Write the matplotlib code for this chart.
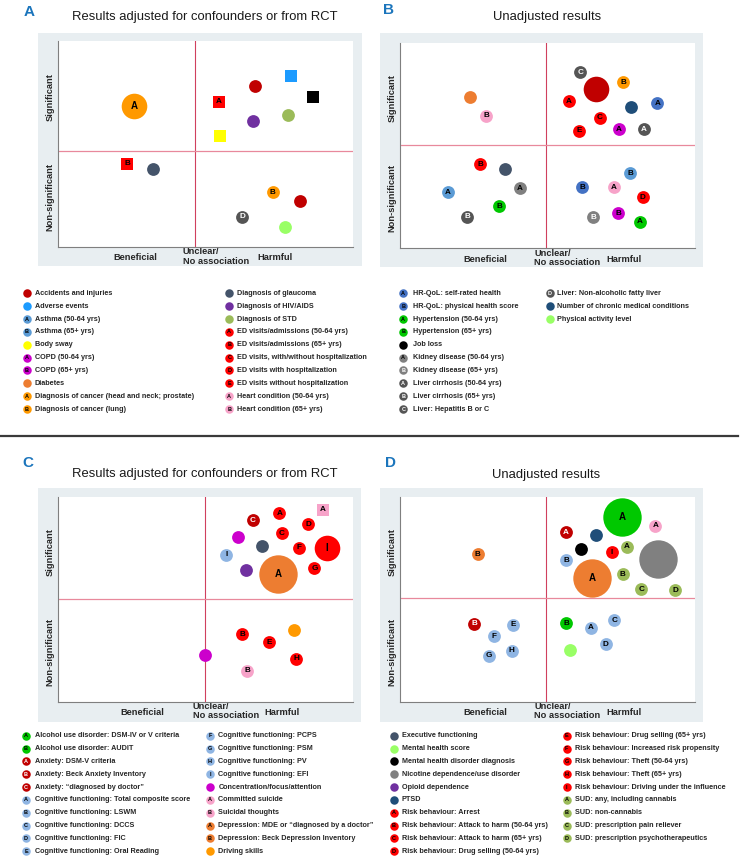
import matplotlib
matplotlib.use("Agg")
import matplotlib.pyplot as plt
from matplotlib.patches import Rectangle

plt.rcParams['font.family'] = ['Liberation Sans', 'DejaVu Sans']

# ---- legend categories (codes, text, letter inside the dot) ----
legA_codes = ["acc", "adv", "asthA", "asthB", "sway", "copdA", "copdB", "diab", "cancA", "cancB",
              "glau", "hiv", "std", "edA", "edB", "edC", "edD", "edE", "heartA", "heartB"]
legA_labels = ["Accidents and injuries", "Adverse events", "Asthma (50-64 yrs)", "Asthma (65+ yrs)",
               "Body sway", "COPD (50-64 yrs)", "COPD (65+ yrs)", "Diabetes",
               "Diagnosis of cancer (head and neck; prostate)", "Diagnosis of cancer (lung)",
               "Diagnosis of glaucoma", "Diagnosis of HIV/AIDS", "Diagnosis of STD",
               "ED visits/admissions (50-64 yrs)", "ED visits/admissions (65+ yrs)",
               "ED visits, with/without hospitalization", "ED visits with hospitalization",
               "ED visits without hospitalization", "Heart condition (50-64 yrs)", "Heart condition (65+ yrs)"]
legA_letters = ["", "", "A", "B", "", "A", "B", "", "A", "B",
                "", "", "", "A", "B", "C", "D", "E", "A", "B"]

legB_codes = ["hrqA", "hrqB", "hypA", "hypB", "job", "kidA", "kidB", "livA", "livB", "livC",
              "livD", "chron", "phys"]
legB_labels = ["HR-QoL: self-rated health", "HR-QoL: physical health score", "Hypertension (50-64 yrs)",
               "Hypertension (65+ yrs)", "Job loss", "Kidney disease (50-64 yrs)", "Kidney disease (65+ yrs)",
               "Liver cirrhosis (50-64 yrs)", "Liver cirrhosis (65+ yrs)", "Liver: Hepatitis B or C",
               "Liver: Non-alcoholic fatty liver", "Number of chronic medical conditions",
               "Physical activity level"]
legB_letters = ["A", "B", "A", "B", "", "A", "B", "A", "B", "C", "D", "", ""]

legC_codes = ["alcA", "alcB", "anxA", "anxB", "anxC", "cogA", "cogB", "cogC", "cogD", "cogE",
              "cogF", "cogG", "cogH", "cogI", "conc", "suiA", "suiB", "depA", "depB", "drive"]
legC_labels = ["Alcohol use disorder: DSM-IV or V criteria", "Alcohol use disorder: AUDIT",
               "Anxiety: DSM-V criteria", "Anxiety: Beck Anxiety Inventory",
               "Anxiety: \u201cdiagnosed by doctor\u201d", "Cognitive functioning: Total composite score",
               "Cognitive functioning: LSWM", "Cognitive functioning: DCCS", "Cognitive functioning: FIC",
               "Cognitive functioning: Oral Reading", "Cognitive functioning: PCPS",
               "Cognitive functioning: PSM", "Cognitive functioning: PV", "Cognitive functioning: EFI",
               "Concentration/focus/attention", "Committed suicide", "Suicidal thoughts",
               "Depression: MDE or \u201cdiagnosed by a doctor\u201d", "Depression: Beck Depression Inventory",
               "Driving skills"]
legC_letters = ["A", "B", "A", "B", "C", "A", "B", "C", "D", "E",
                "F", "G", "H", "I", "", "A", "B", "A", "B", ""]

legD_codes = ["exe", "mhs", "mhd", "nic", "opi", "ptsd", "rA", "rB", "rC", "rD",
              "rE", "rF", "rG", "rH", "rI", "sudA", "sudB", "sudC", "sudD"]
legD_labels = ["Executive functioning", "Mental health score", "Mental health disorder diagnosis",
               "Nicotine dependence/use disorder", "Opioid dependence", "PTSD",
               "Risk behaviour: Arrest", "Risk behaviour: Attack to harm (50-64 yrs)",
               "Risk behaviour: Attack to harm (65+ yrs)", "Risk behaviour: Drug selling (50-64 yrs)",
               "Risk behaviour: Drug selling (65+ yrs)", "Risk behaviour: Increased risk propensity",
               "Risk behaviour: Theft (50-64 yrs)", "Risk behaviour: Theft (65+ yrs)",
               "Risk behaviour: Driving under the influence", "SUD: any, including cannabis",
               "SUD: non-cannabis", "SUD: prescription pain reliever", "SUD: prescription psychotherapeutics"]
legD_letters = ["", "", "", "", "", "", "A", "B", "C", "D", "E", "F", "G", "H", "I", "A", "B", "C", "D"]

# ---- points: x = beneficial(0) .. harmful(100), y = non-significant(0) .. significant(100)
# size = relative bubble radius, rct = drawn as square
A_code = ["cancA", "edA", "acc", "adv", "job", "hiv", "std", "sway", "edB", "glau", "cancB", "acc", "livD", "phys"]
A_x = [25.7, 54.5, 66.8, 79.0, 86.4, 66.1, 78.1, 55.0, 23.5, 32.1, 72.8, 82.0, 62.5, 77.1]
A_y = [68.4, 70.4, 78.0, 82.9, 73.0, 61.0, 63.9, 53.9, 40.3, 37.7, 26.5, 22.5, 14.7, 9.6]
A_size = [2, 1, 1, 1, 1, 1, 1, 1, 1, 1, 1, 1, 1, 1]
A_rct = [0, 1, 0, 1, 1, 0, 0, 1, 1, 0, 0, 0, 0, 0]

B_code = ["livC", "acc", "cancB", "edA", "chron", "hrqA", "edC", "edE", "copdA", "livA", "diab", "heartB",
          "edB", "glau", "kidA", "asthA", "hypB", "livB",
          "asthB", "hrqB", "heartA", "edD", "copdB", "kidB", "hypA"]
B_x = [61.1, 66.4, 75.6, 57.3, 78.2, 87.2, 67.7, 60.6, 74.2, 82.6, 23.7, 29.3,
       27.2, 35.6, 40.7, 16.3, 33.7, 22.7,
       78.1, 61.7, 72.4, 82.3, 74.0, 65.5, 81.3]
B_y = [85.7, 77.3, 80.7, 71.6, 68.7, 70.5, 63.5, 57.1, 58.0, 57.9, 73.6, 64.5,
       41.0, 38.4, 29.3, 27.2, 20.4, 15.4,
       36.6, 29.7, 29.8, 24.8, 17.0, 15.1, 12.9]
B_size = [1, 2] + [1] * 23
B_rct = [0] * 25

C_code = ["suiA", "rA", "anxC", "rD", "rC", "conc", "exe", "rF", "rI", "cogI", "opi", "depA", "rG",
          "drive", "rB", "rE", "conc", "rH", "suiB"]
C_x = [89.8, 75.1, 66.2, 85.0, 76.0, 61.0, 69.3, 81.9, 91.3, 57.1, 63.9, 74.7, 87.0,
       80.2, 62.6, 71.7, 49.8, 80.8, 64.2]
C_y = [93.9, 92.2, 88.7, 86.8, 82.5, 80.6, 76.0, 75.2, 75.0, 71.8, 64.3, 62.5, 65.4,
       35.1, 33.1, 29.1, 22.7, 21.0, 15.2]
C_size = [1, 1, 1, 1, 1, 1, 1, 1, 2, 1, 1, 3, 1, 1, 1, 1, 1, 1, 1]
C_rct = [1] + [0] * 18

D_code = ["alcA", "suiA", "anxA", "ptsd", "mhd", "rI", "sudA", "nic", "cogB", "depA", "sudB", "sudC", "sudD",
          "depB", "anxB", "cogE", "cogF", "cogG", "cogH",
          "alcB", "cogA", "cogC", "cogD", "mhs"]
D_x = [75.4, 86.6, 56.3, 66.3, 61.2, 71.9, 76.9, 87.6, 56.3, 65.1, 75.5, 81.8, 93.2,
       26.3, 25.1, 38.3, 31.9, 30.1, 37.9,
       56.3, 64.6, 72.6, 69.7, 57.6]
D_y = [90.2, 86.0, 83.0, 81.4, 74.5, 73.2, 75.7, 69.8, 69.3, 60.7, 62.3, 55.0, 54.6,
       72.1, 38.2, 37.7, 32.1, 22.4, 25.0,
       38.4, 36.1, 39.8, 28.1, 25.3]
D_size = [3, 1, 1, 1, 1, 1, 1, 3, 1, 3, 1, 1, 1, 1, 1, 1, 1, 1, 1, 1, 1, 1, 1, 1]
D_rct = [0] * 24

# ---- colours ----
RED, DKRED, PINK, LBLUE, OLIVE, GREEN = '#ff0000', '#c00000', '#f7a3c9', '#8fb5e3', '#9bbb59', '#00c800'
colours = {
    "acc": DKRED, "adv": '#1c9bff', "asthA": '#5b9bd5', "asthB": '#5b9bd5', "sway": '#ffff00',
    "copdA": '#cc00cc', "copdB": '#cc00cc', "diab": '#ed7d31', "cancA": '#ff9900', "cancB": '#ff9900',
    "glau": '#44546a', "hiv": '#7030a0', "std": OLIVE, "heartA": PINK, "heartB": PINK,
    "hrqA": '#4472c4', "hrqB": '#4472c4', "hypA": GREEN, "hypB": GREEN, "job": '#000000',
    "kidA": '#808080', "kidB": '#808080', "livA": '#555555', "livB": '#555555', "livC": '#555555',
    "livD": '#555555', "chron": '#1f4e79', "phys": '#99ff66',
    "alcA": GREEN, "alcB": GREEN, "anxA": DKRED, "anxB": DKRED, "anxC": DKRED,
    "conc": '#cc00cc', "suiA": PINK, "suiB": PINK, "depA": '#ed7d31', "depB": '#ed7d31', "drive": '#ff9900',
    "exe": '#44546a', "mhs": '#99ff66', "mhd": '#000000', "nic": '#808080', "opi": '#7030a0',
    "ptsd": '#1f4e79',
}
for c in ["edA", "edB", "edC", "edD", "edE", "rA", "rB", "rC", "rD", "rE", "rF", "rG", "rH", "rI"]:
    colours[c] = RED
for c in ["cogA", "cogB", "cogC", "cogD", "cogE", "cogF", "cogG", "cogH", "cogI"]:
    colours[c] = LBLUE
for c in ["sudA", "sudB", "sudC", "sudD"]:
    colours[c] = OLIVE
white_letter = {"anxA", "anxB", "anxC", "livA", "livB", "livC", "livD", "kidB"}

letters = {}
for codes, lets in [(legA_codes, legA_letters), (legB_codes, legB_letters),
                    (legC_codes, legC_letters), (legD_codes, legD_letters)]:
    letters.update(dict(zip(codes, lets)))

W, H = 740, 858
fig = plt.figure(figsize=(W / 100, H / 100), dpi=100)
bg = fig.add_axes([0, 0, 1, 1], zorder=0)
bg.set_xlim(0, W)
bg.set_ylim(H, 0)
bg.axis('off')

PX = 0.72  # points per pixel at dpi 100


def panel(tag, title, box, plot, vline, hline, tag_xy, title_xy, ben, harm,
          codes, xs, ys, sizes, rct):
    bx0, by0, bx1, by1 = box
    bg.add_patch(Rectangle((bx0, by0), bx1 - bx0, by1 - by0, color='#e8eef1', lw=0))
    bg.text(*tag_xy, tag, fontsize=11, weight='bold', color='#1b75bc', ha='center', va='center')
    bg.text(*title_xy, title, fontsize=9.4, color='#1a1a1a', ha='center', va='center')
    x0, y0, x1, y1 = plot
    w, h = x1 - x0, y1 - y0
    ax = fig.add_axes([x0 / W, 1 - y1 / H, w / W, h / H], zorder=1)
    ax.set_xlim(0, 100)
    ax.set_ylim(0, 100)
    ax.set_xticks([])
    ax.set_yticks([])
    for s in ['top', 'right']:
        ax.spines[s].set_visible(False)
    for s in ['left', 'bottom']:
        ax.spines[s].set_color('#7f7f7f')
        ax.spines[s].set_linewidth(0.8)
    ax.axvline(vline, color='#d0405e', lw=0.8, zorder=1)
    ax.axhline(hline, color='#e8899c', lw=0.9, zorder=1)
    for c, x, y, sz, sq in zip(codes, xs, ys, sizes, rct):
        d = 12.8 * sz * PX
        ax.scatter([x], [y], s=d * d, color=colours[c], marker='s' if sq else 'o',
                   linewidths=0, zorder=3, clip_on=False)
        if letters[c]:
            ax.text(x, y, letters[c], ha='center', va='center', fontsize=5.9 if sz == 1 else 7,
                    weight='bold', color='white' if c in white_letter else 'black', zorder=4)
    lab = dict(fontsize=6.7, weight='bold', color='#262626')
    bg.text(x0 - 8, y0 + 0.27 * h, "Significant", rotation=90, ha='center', va='center', **lab)
    bg.text(x0 - 8, y0 + 0.755 * h, "Non-significant", rotation=90, ha='center', va='center', **lab)
    bg.text(x0 + ben * w, y1 + 11, "Beneficial", ha='center', va='center', **lab)
    bg.text(x0 + harm * w, y1 + 11, "Harmful", ha='center', va='center', **lab)
    bg.text(x0 + vline / 100 * w - 12, y1 + 9.5, "Unclear/\nNo association", ha='left', va='center',
            linespacing=1.05, **lab)


def legend(codes, labels, rows_y, icon_x, text_x, step=12.86):
    for i, (c, t) in enumerate(zip(codes, labels)):
        col, row = divmod(i, 10)
        y = rows_y + row * step
        bg.scatter([icon_x[col]], [y], s=(8.5 * PX) ** 2, color=colours[c], linewidths=0, zorder=3)
        if letters[c]:
            bg.text(icon_x[col], y, letters[c], fontsize=4, weight='bold', ha='center', va='center',
                    color='white' if c in white_letter else 'black', zorder=4)
        bg.text(text_x[col], y, t, fontsize=5.2, weight='bold', color='#262626', ha='left', va='center')


panel("A", "Results adjusted for confounders or from RCT", (38, 33, 362, 266), (58, 41, 353, 247),
      46.4, 46.6, (29, 12), (205, 17), 0.261, 0.737, A_code, A_x, A_y, A_size, A_rct)
panel("B", "Unadjusted results", (380, 33, 703, 267), (400, 42.7, 695, 248.3),
      49.5, 50.1, (388, 10), (547, 17), 0.288, 0.759, B_code, B_x, B_y, B_size, B_rct)
panel("C", "Results adjusted for confounders or from RCT", (38, 488, 361, 722), (57.7, 497.3, 352.7, 701.7),
      49.8, 50.1, (28, 463), (205, 474), 0.288, 0.759, C_code, C_x, C_y, C_size, C_rct)
panel("D", "Unadjusted results", (380, 488, 703, 722), (400, 497.3, 695, 701.7),
      49.5, 50.6, (390, 463), (546, 475), 0.29, 0.76, D_code, D_x, D_y, D_size, D_rct)

legend(legA_codes, legA_labels, 293.3, [26.7, 229.3], [34.7, 237])
legend(legB_codes, legB_labels, 293.3, [403.3, 550], [412.7, 557.3])
legend(legC_codes, legC_labels, 735.7, [26, 210], [35.3, 218.3], step=12.84)
legend(legD_codes, legD_labels, 735.7, [394, 566.7], [402, 574.7], step=12.84)

bg.plot([0, 738], [436, 436], color='#3a3a3a', lw=1.6)

fig.savefig("out.png", dpi=100)
